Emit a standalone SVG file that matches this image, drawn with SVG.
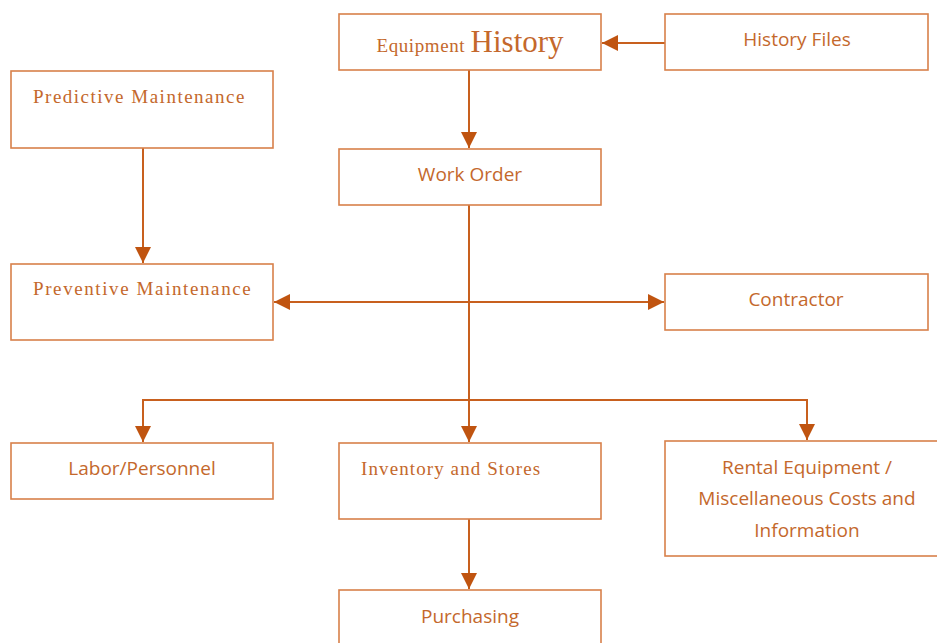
<svg xmlns="http://www.w3.org/2000/svg" width="937" height="643" viewBox="0 0 937 643">
  <style>
    .box { fill: #ffffff; stroke: #d8804a; stroke-width: 1.6; }
    .wire { fill: none; stroke: #c8601e; stroke-width: 2; }
    .serif { font-family: "Liberation Serif", "DejaVu Serif", serif; fill: #c4682c; }
    .sans { font-family: "Open Sans", "Liberation Sans", sans-serif; fill: #c4682c; font-size: 19px; }
  </style>
  <defs>
    <marker id="tip" viewBox="0 0 16 16" refX="16" refY="8" markerWidth="16" markerHeight="16" markerUnits="userSpaceOnUse" orient="auto-start-reverse">
      <path d="M0,0 L16,8 L0,16 Z" fill="#c05410"/>
    </marker>
  </defs>

  <rect width="937" height="643" fill="#ffffff"/>

  <g id="connectors">
    <line class="wire" x1="665" y1="43" x2="602" y2="43" marker-end="url(#tip)"/>
    <line class="wire" x1="469" y1="70" x2="469" y2="148" marker-end="url(#tip)"/>
    <line class="wire" x1="143" y1="148" x2="143" y2="263" marker-end="url(#tip)"/>
    <line class="wire" x1="469" y1="205" x2="469" y2="442" marker-end="url(#tip)"/>
    <line class="wire" x1="274" y1="302" x2="664" y2="302" marker-start="url(#tip)" marker-end="url(#tip)"/>
    <polyline class="wire" points="143,442 143,400 807,400 807,440" marker-end="url(#tip)"/>
    <line class="wire" x1="143" y1="410" x2="143" y2="442" marker-end="url(#tip)"/>
    <line class="wire" x1="469" y1="519" x2="469" y2="589" marker-end="url(#tip)"/>
  </g>

  <g id="equipment-history">
    <rect class="box" x="339" y="14" width="262" height="56"/>
    <text class="serif" x="470" y="52" text-anchor="middle"><tspan font-size="19" letter-spacing="0.6">Equipment </tspan><tspan font-size="31">History</tspan></text>
  </g>

  <g id="history-files">
    <rect class="box" x="665" y="14" width="263" height="56"/>
    <text class="sans" x="797" y="46" text-anchor="middle">History Files</text>
  </g>

  <g id="predictive-maintenance">
    <rect class="box" x="11" y="71" width="262" height="77"/>
    <text class="serif" x="33" y="103" font-size="19" letter-spacing="1.5">Predictive Maintenance</text>
  </g>

  <g id="work-order">
    <rect class="box" x="339" y="149" width="262" height="56"/>
    <text class="sans" x="470" y="181" text-anchor="middle">Work Order</text>
  </g>

  <g id="preventive-maintenance">
    <rect class="box" x="11" y="264" width="262" height="76"/>
    <text class="serif" x="33" y="295" font-size="19" letter-spacing="1.6">Preventive Maintenance</text>
  </g>

  <g id="contractor">
    <rect class="box" x="665" y="274" width="263" height="56"/>
    <text class="sans" x="796" y="306" text-anchor="middle">Contractor</text>
  </g>

  <g id="labor-personnel">
    <rect class="box" x="11" y="443" width="262" height="56"/>
    <text class="sans" x="142" y="475" text-anchor="middle">Labor/Personnel</text>
  </g>

  <g id="inventory-stores">
    <rect class="box" x="339" y="443" width="262" height="76"/>
    <text class="serif" x="361" y="475" font-size="19" letter-spacing="1.1">Inventory and Stores</text>
  </g>

  <g id="rental-equipment">
    <rect class="box" x="665" y="441" width="280" height="115"/>
    <text class="sans" x="807" y="474" text-anchor="middle">Rental Equipment /</text>
    <text class="sans" x="807" y="505" text-anchor="middle">Miscellaneous Costs and</text>
    <text class="sans" x="807" y="537" text-anchor="middle">Information</text>
  </g>

  <g id="purchasing">
    <rect class="box" x="339" y="590" width="262" height="70"/>
    <text class="sans" x="470" y="623" text-anchor="middle">Purchasing</text>
  </g>
</svg>
